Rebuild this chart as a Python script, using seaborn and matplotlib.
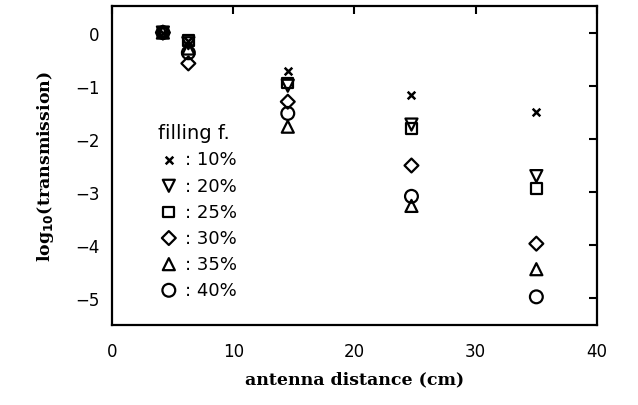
import matplotlib
matplotlib.use("Agg")
import matplotlib.pyplot as plt
import seaborn as sns
import pandas as pd

distance = [4.2, 6.3, 14.5, 24.7, 35.0]
fillings = ["10%", "20%", "25%", "30%", "35%", "40%"]
logT_10 = [0.0, -0.15, -0.73, -1.18, -1.50]
logT_20 = [0.0, -0.20, -1.00, -1.73, -2.70]
logT_25 = [0.0, -0.15, -0.95, -1.80, -2.93]
logT_30 = [0.0, -0.58, -1.30, -2.50, -3.97]
logT_35 = [0.0, -0.30, -1.77, -3.26, -4.45]
logT_40 = [0.0, -0.38, -1.52, -3.08, -4.97]
series = [logT_10, logT_20, logT_25, logT_30, logT_35, logT_40]
marker_styles = ["x", "v", "s", "D", "^", "o"]
marker_sizes = [30, 75, 60, 50, 75, 85]

sns.set_theme(style="white")
plt.rcParams["font.family"] = ["DejaVu Sans"]
plt.rcParams["text.color"] = "black"

fig = plt.figure(figsize=(6.38, 4.06), dpi=100)
ax = fig.add_axes([0.1755, 0.197, 0.7602, 0.7858])

for fill, vals, m, s in zip(fillings, series, marker_styles, marker_sizes):
    df = pd.DataFrame({"distance": distance, "logT": vals})
    if m == "x":
        sns.scatterplot(data=df, x="distance", y="logT", ax=ax, marker=m, s=s,
                        color="black", linewidth=1.8, label=": " + fill)
    else:
        sns.scatterplot(data=df, x="distance", y="logT", ax=ax, marker=m, s=s,
                        facecolor="none", edgecolor="black", linewidth=1.6,
                        label=": " + fill)

ax.set_xlim(0, 40)
ax.set_ylim(-5.5, 0.5)
ax.set_xticks([0, 10, 20, 30, 40])
ax.set_yticks([0, -1, -2, -3, -4, -5])
ax.set_yticklabels(["0", "\u22121", "\u22122", "\u22123", "\u22124", "\u22125"])
ax.tick_params(direction="in", length=6, width=1.5, top=True, right=True,
               labelsize=12, colors="black")
ax.tick_params(axis="x", pad=12)
ax.tick_params(axis="y", pad=9)
for sp in ax.spines.values():
    sp.set_visible(True)
    sp.set_color("black")
    sp.set_linewidth(1.6)

ax.set_xlabel("antenna distance (cm)", family="DejaVu Serif", fontweight="bold",
              fontsize=12.5, labelpad=8, color="black")
ax.set_ylabel(r"log$_{\mathbf{10}}$(transmission)", family="DejaVu Serif",
              fontweight="bold", fontsize=12.5, labelpad=14, color="black")

leg = ax.legend(title="filling f.", loc="upper left", bbox_to_anchor=(0.08, 0.655),
                frameon=False, fontsize=13, title_fontsize=14, handletextpad=0.3,
                labelspacing=0.45, borderaxespad=0, handlelength=1.2)
leg._legend_box.align = "left"
for t in leg.get_texts():
    t.set_color("black")
leg.get_title().set_color("black")

fig.savefig("out.png", dpi=100)
